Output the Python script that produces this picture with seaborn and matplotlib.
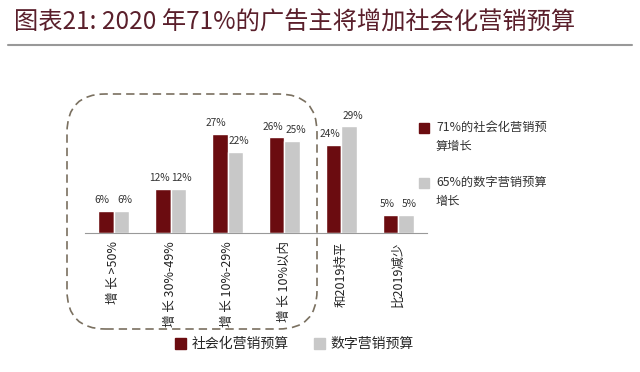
import matplotlib
matplotlib.use("Agg")
import matplotlib.pyplot as plt
import matplotlib.patches as mpatches
import seaborn as sns
import pandas as pd
import numpy as np

# data
categories = ["增 长 >50%", "增 长 30%-49%", "增 长 10%-29%", "增 长 10%以内", "和2019持平", "比2019减少"]
social = [6, 12, 27, 26, 24, 5]
digital = [6, 12, 22, 25, 29, 5]
series_names = ["社会化营销预算", "数字营销预算"]
side_notes = ["71%的社会化营销预\n算增长", "65%的数字营销预算\n增长"]
title = "图表21: 2020 年71%的广告主将增加社会化营销预算"

red = "#6b0c10"
grey = "#c8c8c8"

sns.set_style("white")
plt.rcParams['font.family'] = ['Noto Sans CJK SC', 'DejaVu Sans']

df = pd.DataFrame({
    "cat": categories * 2,
    "val": social + digital,
    "series": [series_names[0]] * len(categories) + [series_names[1]] * len(categories),
})

fig = plt.figure(figsize=(6.4, 3.72), dpi=100)
ax = fig.add_axes([0.133, 0.374, 0.534, 0.316])
sns.barplot(data=df, x="cat", y="val", hue="series", order=categories,
            hue_order=series_names, palette=[red, grey], width=0.55,
            saturation=1, ax=ax, legend=False)

# value labels, nudged apart a little so neighbours don't collide
for c, dx in zip(ax.containers, [-2.5, 2.5]):
    texts = ax.bar_label(c, labels=[f"{v:.0f}%" for v in c.datavalues], padding=4,
                         fontsize=7.3, color="#333333")
    for t in texts:
        t.xyann = (dx, t.xyann[1])

ax.set_ylim(0, 32)
ax.set_xlim(-0.5, len(categories) - 0.5)
ax.set_xlabel("")
ax.set_ylabel("")
ax.set_yticks([])
for s in ["top", "right", "left"]:
    ax.spines[s].set_visible(False)
ax.spines["bottom"].set_color("#999999")
ax.set_xticks(np.arange(len(categories)))
ax.set_xticklabels(categories, rotation=90, fontsize=9, color="#222222")
ax.tick_params(axis="x", which="major", length=0, pad=6)
ax.set_xticks(np.arange(len(categories) + 1) - 0.5, minor=True)
ax.tick_params(axis="x", which="minor", length=4, direction="inout", color="#999999")

# title and rule
fig.text(0.022, 0.94, title, fontsize=17.5, style="italic", color="#5a1f2b", va="center")
fig.add_artist(plt.Line2D([0.013, 0.988], [0.879, 0.879], color="#999999", lw=1.5,
                          transform=fig.transFigure))

# dashed rounded box around the growth groups
box = mpatches.FancyBboxPatch((67 / 640, 1 - 329 / 372), (317 - 67) / 640, (329 - 94) / 372,
                              boxstyle="round,pad=0,rounding_size=0.06",
                              mutation_aspect=640 / 372,
                              transform=fig.transFigure, fill=False,
                              ls=(0, (5, 3)), lw=1.2, ec="#7a7060")
fig.add_artist(box)

# bottom legend
handles = [mpatches.Patch(color=red), mpatches.Patch(color=grey)]
fig.legend(handles, series_names, loc="center", bbox_to_anchor=(0.46, 0.075), ncol=2,
           frameon=False, fontsize=10, handlelength=0.8, handleheight=0.8,
           handletextpad=0.4, columnspacing=1.8)

# side notes
for i, (note, col) in enumerate(zip(side_notes, [red, grey])):
    y = 1 - (128 + 55 * i) / 372
    fig.add_artist(mpatches.Rectangle((419 / 640, y - 5 / 372), 10 / 640, 10 / 372,
                                      color=col, transform=fig.transFigure))
    fig.text(436 / 640, y + 7 / 372, note, fontsize=8.8, color="#333333",
             va="top", ha="left", linespacing=1.55)

fig.savefig("out.png", dpi=100)
